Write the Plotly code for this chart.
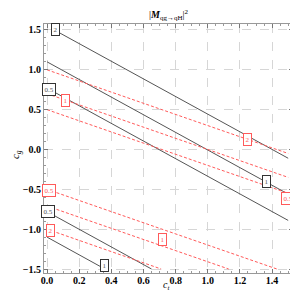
import plotly.graph_objects as go

# Contour lines: start/end points in (c_t, c_g)
black_labels = ["2", "1", "0.5", "0.5", "1"]
black_x0 = [0.045, 0.0, 0.0, 0.0, 0.0]
black_y0 = [1.50, 1.10, 0.77, -0.78, -1.10]
black_x1 = [1.5, 1.5, 1.5, 0.65, 0.36]
black_y1 = [-0.11, -0.56, -0.89, -1.50, -1.50]
# label positions for black contours
black_lx = [0.05, 1.363, 0.013, 0.006, 0.355]
black_ly = [1.50, -0.397, 0.756, -0.78, -1.46]

red_labels = ["2", "1", "0.5", "0.5", "1", "2"]
red_x0 = [0.0, 0.0, 0.0, 0.0, 0.0, 0.0]
red_y0 = [1.00, 0.70, 0.50, -0.50, -0.71, -1.00]
red_x1 = [1.5, 1.5, 1.5, 1.43, 1.13, 0.71]
red_y1 = [-0.05, -0.35, -0.55, -1.50, -1.50, -1.50]
red_lx = [1.248, 0.115, 1.50, 0.01, 0.72, 0.02]
red_ly = [0.13, 0.614, -0.62, -0.51, -1.13, -1.02]

x_ticks = [0.0, 0.2, 0.4, 0.6, 0.8, 1.0, 1.2, 1.4]
x_ticklabels = ["0.0", "0.2", "0.4", "0.6", "0.8", "1.0", "1.2", "1.4"]
y_ticks = [-1.5, -1.0, -0.5, 0.0, 0.5, 1.0, 1.5]
y_ticklabels = ["\u22121.5", "\u22121.0", "\u22120.5", "0.0", "0.5", "1.0", "1.5"]

BLACK = "#555555"
RED = "rgb(255,90,90)"
SERIF = "Liberation Serif, Times New Roman, serif"

fig = go.Figure()
for i in range(len(black_x0)):
    fig.add_trace(go.Scatter(x=[black_x0[i], black_x1[i]], y=[black_y0[i], black_y1[i]],
                             mode="lines", line=dict(color=BLACK, width=1),
                             hoverinfo="skip", showlegend=False))
for i in range(len(red_x0)):
    fig.add_trace(go.Scatter(x=[red_x0[i], red_x1[i]], y=[red_y0[i], red_y1[i]],
                             mode="lines", line=dict(color=RED, width=1, dash="3px,2px"),
                             hoverinfo="skip", showlegend=False))

for i, t in enumerate(black_labels):
    fig.add_annotation(x=black_lx[i], y=black_ly[i], text=t, showarrow=False,
                       font=dict(family=SERIF, size=7, color="#555"),
                       bgcolor="white", bordercolor="#333", borderwidth=1, borderpad=1.5)
for i, t in enumerate(red_labels):
    fig.add_annotation(x=red_lx[i], y=red_ly[i], text=t, showarrow=False,
                       font=dict(family=SERIF, size=7, color=RED),
                       bgcolor="white", bordercolor=RED, borderwidth=1, borderpad=1.5)

# title and axis titles as paper annotations
fig.add_annotation(xref="paper", yref="paper", x=0.502, y=1.036, xanchor="center", yanchor="middle",
                   text="|<b><i>M</i></b><sub>qg\u2192qH</sub>|<sup>2</sup>", showarrow=False,
                   font=dict(family=SERIF, size=10, color="black"))
fig.add_annotation(xref="paper", yref="paper", x=0.49, y=-0.05, xanchor="center", yanchor="middle",
                   text="<i>c</i><sub><i>t</i></sub>", showarrow=False, borderpad=0,
                   font=dict(family=SERIF, size=10, color="black"))
fig.add_annotation(xref="paper", yref="paper", x=-0.11, y=0.476, xanchor="center", yanchor="middle",
                   text="<i>c</i><sub><i>g</i></sub>", showarrow=False, textangle=-90,
                   font=dict(family=SERIF, size=11, color="black"))

axis_common = dict(showline=True, linecolor="#999", linewidth=1, mirror="ticks",
                   ticks="inside", ticklen=4, tickcolor="#777",
                   showgrid=True, gridcolor="#d6d6d6", griddash="dash", gridwidth=1,
                   zeroline=False, automargin=False,
                   tickfont=dict(family=SERIF, size=10, color="black", weight="bold"))

fig.update_xaxes(range=[-0.019, 1.53], tickvals=x_ticks, ticktext=x_ticklabels,
                 ticklabelstandoff=-2,
                 minor=dict(ticks="inside", ticklen=2, tickcolor="#999", dtick=0.05, showgrid=False),
                 **axis_common)
fig.update_yaxes(range=[-1.55, 1.575], tickvals=y_ticks, ticktext=y_ticklabels,
                 minor=dict(ticks="inside", ticklen=2, tickcolor="#999", dtick=0.1, showgrid=False),
                 **axis_common)

fig.update_layout(
    width=298, height=293,
    margin=dict(l=36, r=13, t=16, b=28),
    paper_bgcolor="white", plot_bgcolor="white",
)

fig.write_html("out.html")
